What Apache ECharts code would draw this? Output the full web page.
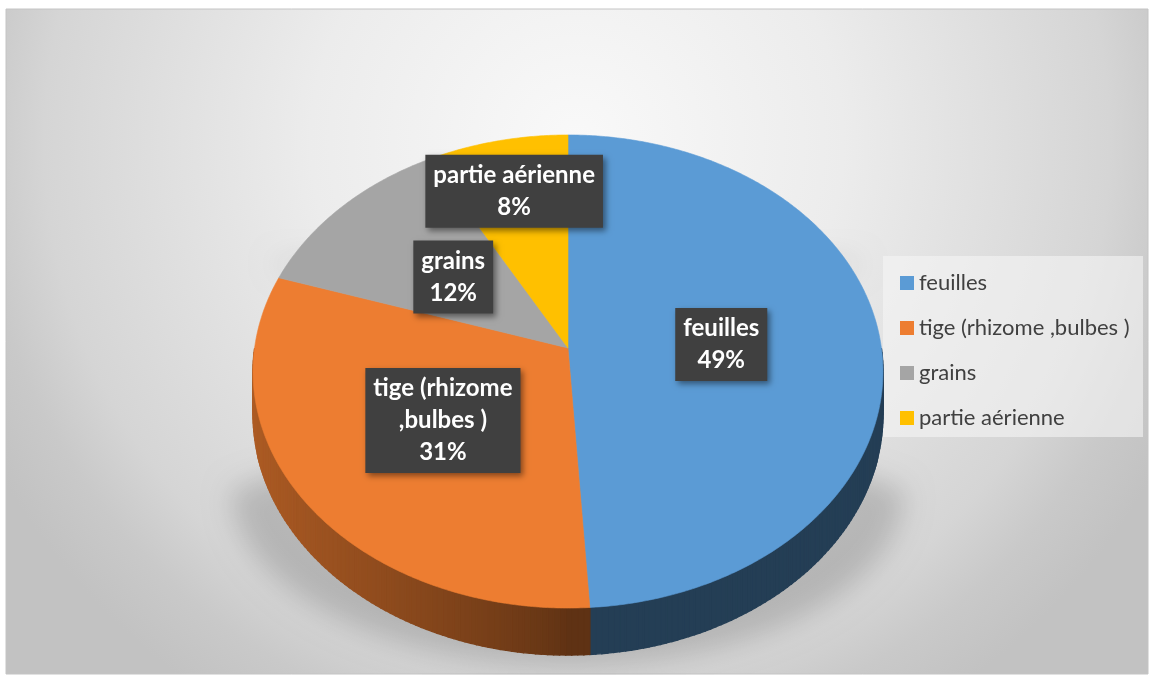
<!DOCTYPE html>
<html>
<head>
<meta charset="utf-8">
<script src="https://cdn.jsdelivr.net/npm/echarts@6/dist/echarts.min.js"></script>
<style>
  html, body { margin: 0; padding: 0; background: #fff; }
  #chart { width: 1152px; height: 675px; }
</style>
</head>
<body>
<div id="chart"></div>
<script>
// data
const categories = ['feuilles', 'tige (rhizome ,bulbes )', 'grains', 'partie aérienne']
const values = [49, 31, 12, 8]
const colors = ['#5b9bd5', '#ed7d31', '#a5a5a5', '#ffc000']

// pie geometry (perspective projection of a flat disc)
const CX = 568, CY = 348
const RX = 313.4, RY = 234.2
const K = 0.0994
const DEPTH = 42.3
const DEG = Math.PI / 180

const total = values.reduce((a, b) => a + b, 0)
const startAngles = []
const endAngles = []
let acc = 0
values.forEach(v => {
  startAngles.push(acc / total * 2 * Math.PI)
  acc += v
  endAngles.push(acc / total * 2 * Math.PI)
})

// t: clockwise angle from 12 o'clock
const proj = (r, t) => {
  const u = r * Math.sin(t)
  const v = -r * Math.cos(t)
  const s = 1 / (1 - K * v)
  return [CX + RX * u * s, CY + RY * v * s]
}
const depthAt = t => DEPTH / (1 - K * (-Math.cos(t)))

const shade = (hex, f) => {
  const n = parseInt(hex.slice(1), 16)
  const r = Math.round(((n >> 16) & 255) * f)
  const g = Math.round(((n >> 8) & 255) * f)
  const b = Math.round((n & 255) * f)
  return `rgb(${r},${g},${b})`
}

// wrap long names like the Excel labels do
const wrap = (name, max) => {
  const words = name.split(' ')
  const lines = []
  let cur = ''
  words.forEach(w => {
    const next = cur ? cur + ' ' + w : w
    if (next.length > max && cur) {
      lines.push(cur)
      cur = w
    } else {
      cur = next
    }
  })
  if (cur) lines.push(cur)
  return lines.join('\n')
}

const renderSlice = (params, api) => {
  const i = params.dataIndex
  const a0 = startAngles[i]
  const a1 = endAngles[i]
  const color = colors[i]
  const children = []

  // side wall (front half only)
  const s0 = Math.max(a0, Math.PI / 2)
  const s1 = Math.min(a1, 3 * Math.PI / 2)
  if (s1 > s0) {
    const n = Math.max(1, Math.ceil((s1 - s0) / DEG))
    for (let k = 0; k < n; k++) {
      const t1 = s0 + (s1 - s0) * k / n
      const t2 = s0 + (s1 - s0) * (k + 1) / n
      const p1 = proj(1, t1)
      const p2 = proj(1, t2)
      const tm = (t1 + t2) / 2
      const f = 0.4 + 0.33 * Math.pow(Math.max(0, -Math.sin(tm)), 0.8)
      const c = shade(color, f)
      children.push({
        type: 'polygon',
        z2: 1,
        shape: {
          points: [p1, p2, [p2[0], p2[1] + depthAt(t2)], [p1[0], p1[1] + depthAt(t1)]]
        },
        style: { fill: c, stroke: c, lineWidth: 1.4 }
      })
    }
  }

  // top face
  const pts = [proj(0, 0)]
  const m = Math.max(2, Math.ceil((a1 - a0) / (0.5 * DEG)))
  for (let k = 0; k <= m; k++) {
    pts.push(proj(1, a0 + (a1 - a0) * k / m))
  }
  children.push({
    type: 'polygon',
    z2: 10,
    shape: { points: pts },
    style: { fill: color, stroke: color, lineWidth: 0.6 }
  })

  // data label
  const share = api.value(0) / total
  const mid = (a0 + a1) / 2
  const lp = proj(share < 0.1 ? 0.74 : 0.49, mid)
  children.push({
    type: 'text',
    x: lp[0],
    y: lp[1],
    z2: 100,
    style: {
      text: wrap(categories[i], 15) + '\n' + Math.round(share * 100) + '%',
      fill: '#ffffff',
      font: 'bold 24px Lato, "Open Sans", sans-serif',
      align: 'center',
      verticalAlign: 'middle',
      lineHeight: 32,
      backgroundColor: '#404040',
      padding: [5, 8, 4, 8],
      shadowBlur: 6,
      shadowOffsetX: 3,
      shadowOffsetY: 3,
      shadowColor: 'rgba(0,0,0,0.45)'
    }
  })

  return { type: 'group', children }
}

const chart = echarts.init(document.getElementById('chart'))

const option = {
  animation: false,
  color: colors,
  graphic: [
    {
      type: 'rect',
      z: -10,
      shape: { x: 6, y: 9, width: 1142, height: 665 },
      style: {
        fill: {
          type: 'radial',
          x: 0.5,
          y: 0.2,
          r: 1.0,
          colorStops: [
            { offset: 0, color: '#f9f9f9' },
            { offset: 0.4, color: '#ececec' },
            { offset: 0.8, color: '#d5d5d5' },
            { offset: 0.9, color: '#c9c9c9' },
            { offset: 1, color: '#c2c2c2' }
          ]
        },
        stroke: '#c4c4c4',
        lineWidth: 1
      }
    },
    {
      // soft shadow under the pie, drawn offscreen and cast back
      type: 'polygon',
      z: -5,
      x: 3000,
      shape: {
        points: (() => {
          const p = [[270, 262]]
          for (let k = 0; k <= 60; k++) {
            const a = Math.PI - Math.PI * k / 60
            p.push([568 - 336 * Math.cos(a), 490 + 176 * Math.sin(a)])
          }
          p.push([866, 262])
          return p
        })()
      },
      style: {
        fill: 'rgba(0,0,0,0.5)',
        shadowBlur: 28,
        shadowOffsetX: -3000,
        shadowColor: 'rgba(0,0,0,0.32)'
      }
    },
    {
      type: 'rect',
      z: -1,
      shape: { x: 883, y: 256, width: 260, height: 181 },
      style: { fill: 'rgba(245,245,245,0.6)' }
    }
  ],
  legend: {
    orient: 'vertical',
    left: 895,
    top: 266,
    data: categories,
    icon: 'rect',
    itemWidth: 14,
    itemHeight: 14,
    itemGap: 21,
    selectedMode: false,
    textStyle: {
      fontFamily: 'Lato, "Open Sans", sans-serif',
      fontSize: 22,
      lineHeight: 24,
      color: '#404040'
    }
  },
  series: [
    {
      // hidden pie: only feeds the legend, covered by the 3D pie
      type: 'pie',
      z: 1,
      center: [CX, CY],
      radius: [0, 4],
      silent: true,
      label: { show: false },
      labelLine: { show: false },
      data: categories.map((name, i) => ({ name, value: values[i] }))
    },
    {
      type: 'custom',
      z: 2,
      coordinateSystem: 'none',
      silent: true,
      renderItem: renderSlice,
      data: categories.map((name, i) => ({ name, value: values[i] }))
    }
  ]
}

chart.setOption(option)
window.addEventListener('resize', () => chart.resize())
</script>
</body>
</html>
